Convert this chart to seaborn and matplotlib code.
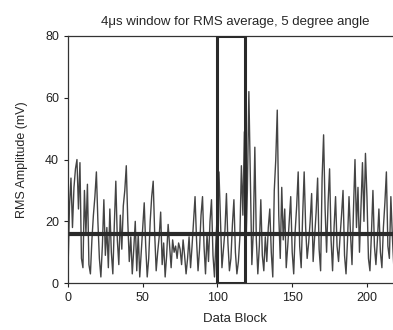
import numpy as np
import pandas as pd
import seaborn as sns
import matplotlib.pyplot as plt
from matplotlib.patches import Rectangle

# %% data
rms_mv = [
    4, 25, 34, 18, 31, 37, 40, 24, 39, 8,
    5, 30, 16, 32, 6, 3, 14, 22, 28, 36,
    20, 8, 2, 12, 27, 9, 18, 5, 24, 10,
    3, 19, 33, 14, 6, 22, 11, 25, 30, 38,
    20, 7, 15, 3, 11, 20, 4, 16, 2, 10,
    18, 26, 12, 2, 8, 20, 28, 33, 16, 4,
    10, 15, 23, 6, 13, 2, 9, 19, 12, 5,
    14, 10, 12, 8, 13, 11, 6, 14, 9, 3,
    8, 15, 5, 12, 20, 28, 14, 4, 11, 22,
    28, 12, 3, 16, 7, 20, 27, 9, 2, 14,
    24, 36, 20, 5, 11, 17, 29, 13, 4, 8,
    19, 27, 10, 3, 7, 15, 38, 22, 49, 10,
    30, 62, 34, 6, 17, 44, 14, 3, 12, 27,
    9, 4, 15, 7, 18, 24, 10, 2, 30, 40,
    56, 22, 8, 31, 14, 24, 5, 12, 20, 28,
    10, 3, 17, 25, 36, 12, 5, 22, 36, 18,
    8, 13, 20, 29, 7, 15, 23, 34, 11, 4,
    34, 48, 24, 10, 26, 37, 14, 4, 18, 28,
    12, 7, 15, 22, 30, 9, 3, 14, 28, 16,
    6, 24, 40, 18, 31, 10, 25, 39, 20, 42,
    28, 8, 4, 16, 30, 12, 6, 14, 24, 10,
    5, 18, 26, 36, 12, 8, 28, 15, 5, 20,
]
rms_level = 16          # RMS average over the whole record
window = (100, 118.5)   # highlighted 4us window (data blocks)

df = pd.DataFrame({'block': np.arange(len(rms_mv)), 'rms': rms_mv})

# %% plot
sns.set_style('ticks')
plt.rcParams['font.family'] = ['Liberation Sans', 'DejaVu Sans']

fig = plt.figure(figsize=(3.93, 3.30), dpi=100)
ax = fig.add_axes([0.173, 0.142, 0.852, 0.749])

sns.lineplot(data=df, x='block', y='rms', ax=ax, color='#444444', linewidth=1.0)
ax.axhline(rms_level, color='#2a2a2a', linewidth=3)
ax.add_patch(Rectangle((window[0], 0), window[1] - window[0], 80,
                       fill=False, edgecolor='#2a2a2a', linewidth=2.2, zorder=5))

ax.set_xlim(0, 224)
ax.set_ylim(0, 80)
ax.set_xticks([0, 50, 100, 150, 200])
ax.set_yticks([0, 20, 40, 60, 80])
ax.tick_params(labelsize=9, length=3, width=0.8, colors='#222222')
for s in ax.spines.values():
    s.set_linewidth(0.9)
    s.set_color('#333333')

ax.set_title('4\u03bcs window for RMS average, 5 degree angle', fontsize=9.5, pad=8)
ax.set_xlabel('Data Block', fontsize=9.5, labelpad=6)
ax.set_ylabel('RMS Amplitude (mV)', fontsize=9, labelpad=12)

fig.savefig('out.png', dpi=100)
